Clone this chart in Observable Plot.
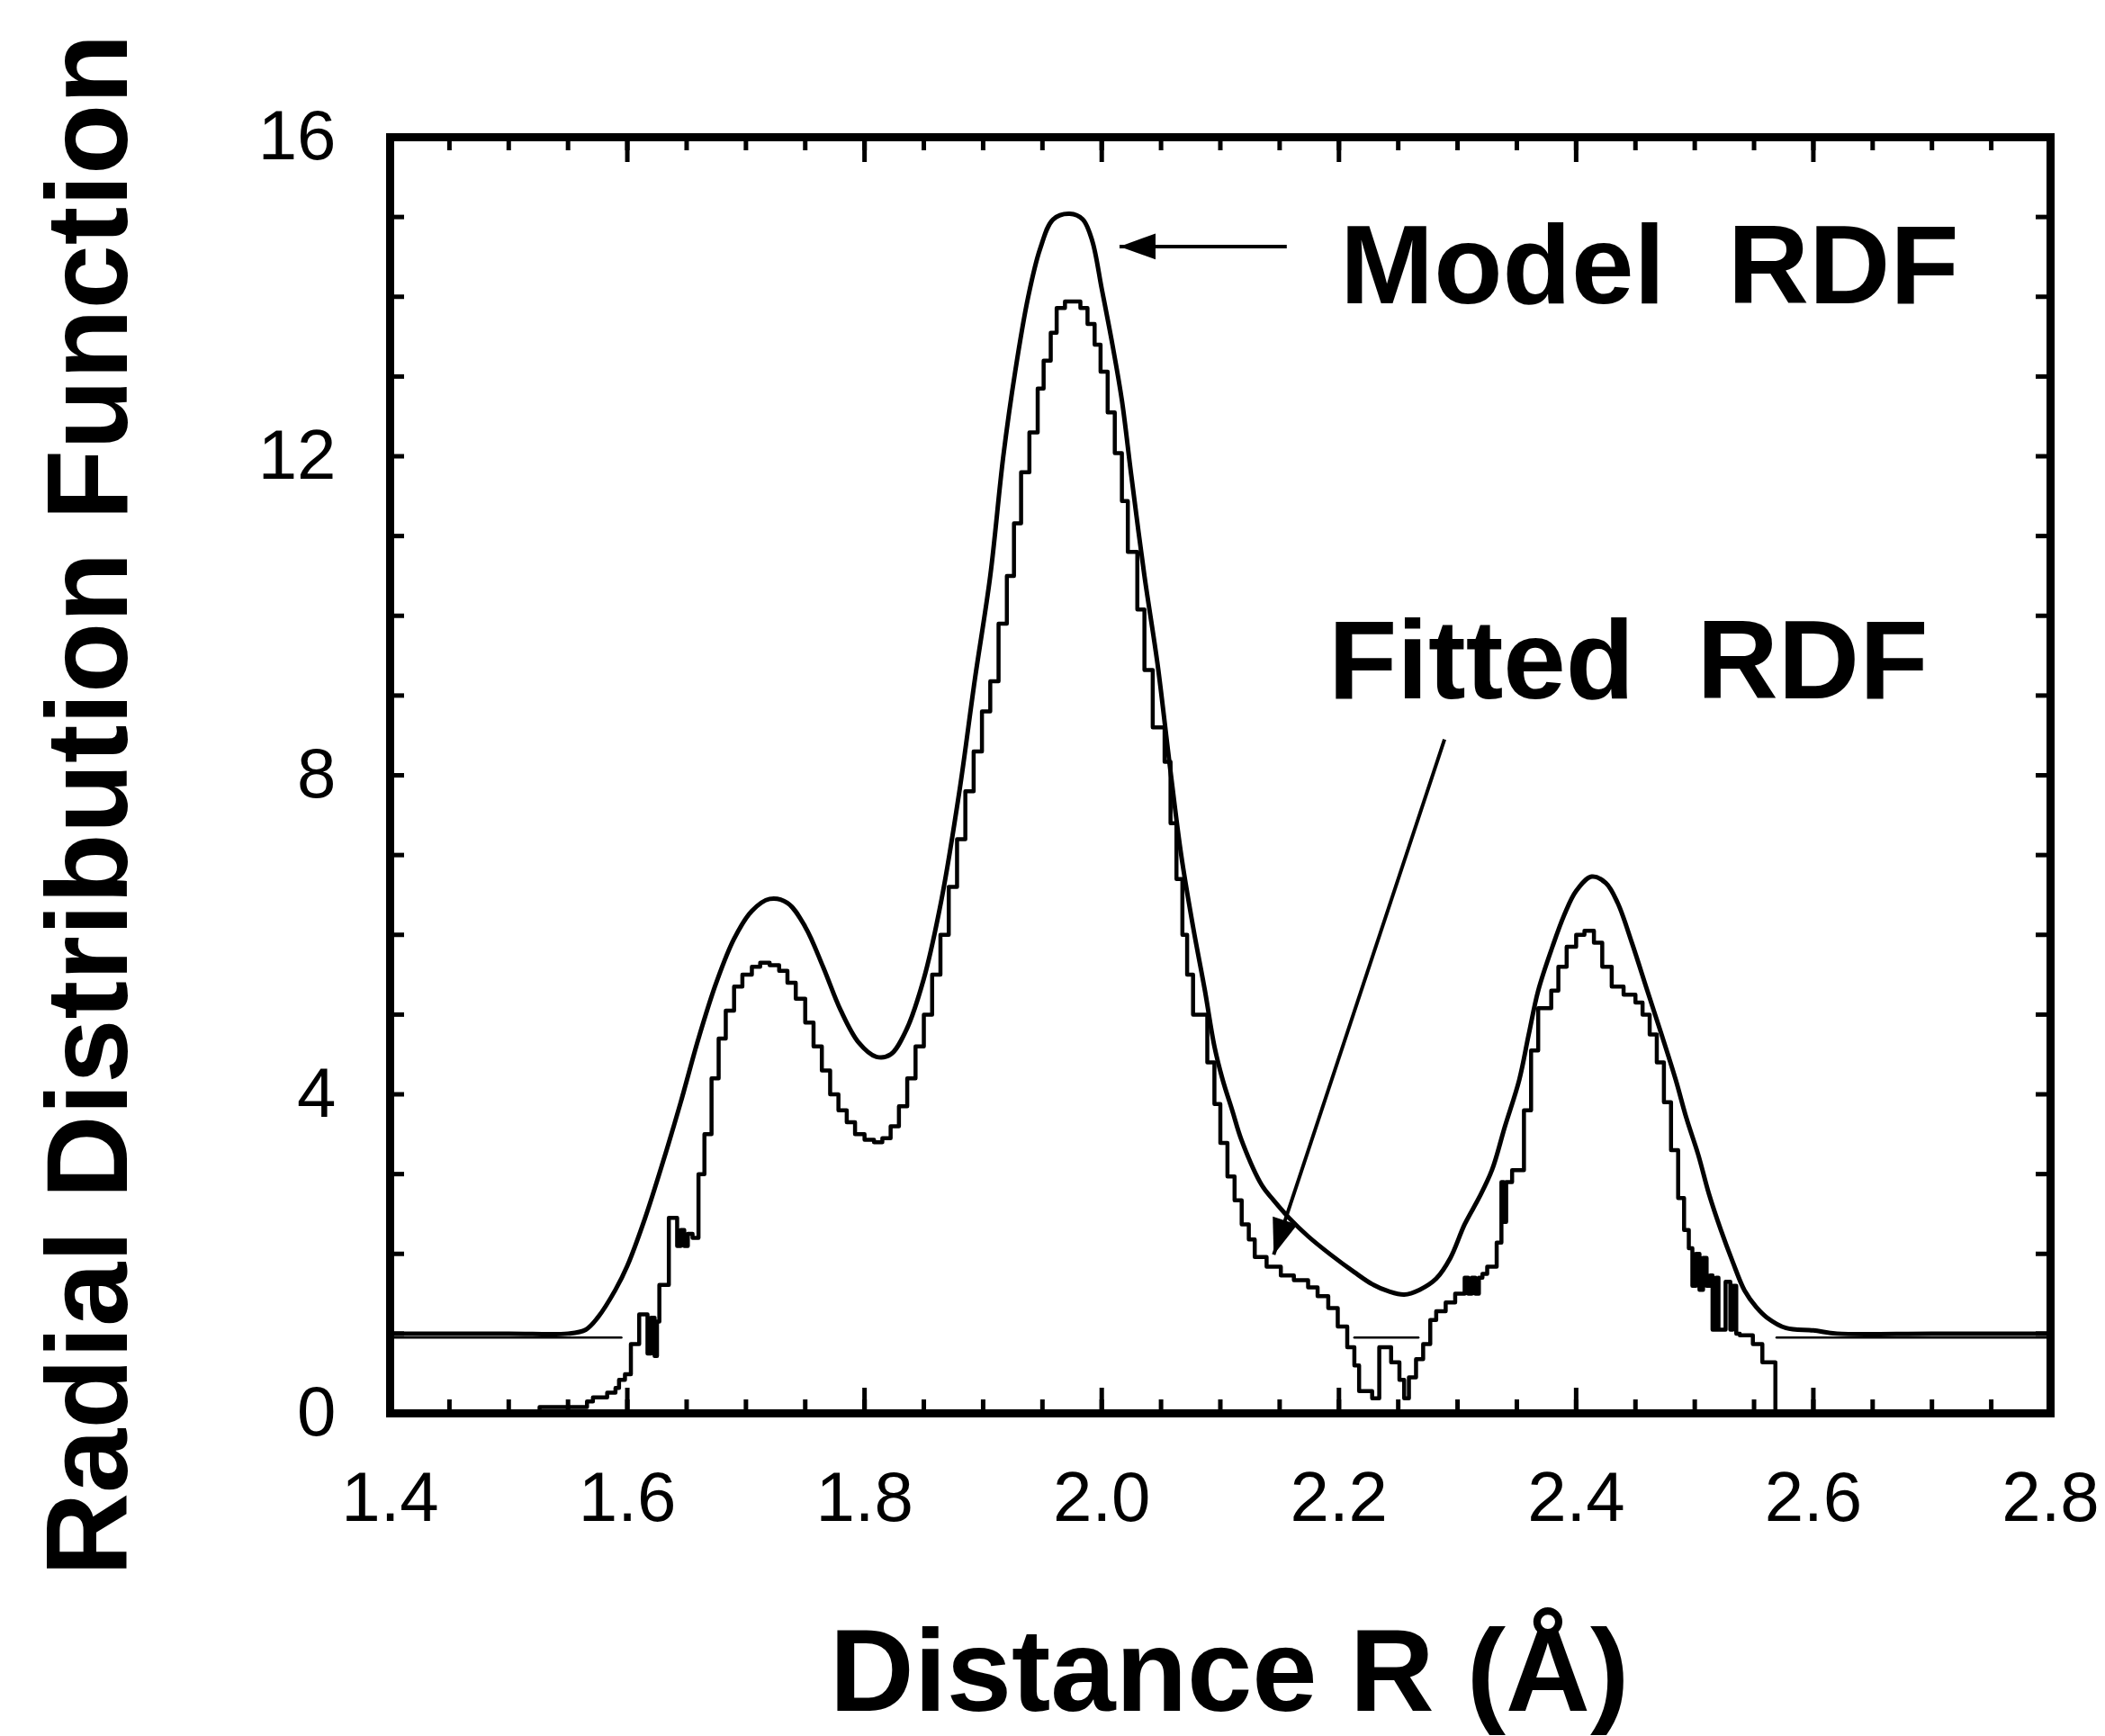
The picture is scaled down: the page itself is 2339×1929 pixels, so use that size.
<!DOCTYPE html>
<html>
<head>
<meta charset="utf-8">
<script src="https://cdn.jsdelivr.net/npm/d3@7"></script>
<script src="https://cdn.jsdelivr.net/npm/@observablehq/plot@0.6"></script>
<style>
  html, body { margin: 0; padding: 0; background: #ffffff; }
</style>
</head>
<body>
<div id="chart"></div>
<script>
// ---- Data ----
// Model RDF: smooth curve
const modelR = [1.40, 1.50, 1.55, 1.565, 1.575, 1.59, 1.60, 1.615, 1.63, 1.645, 1.66, 1.675, 1.69, 1.705, 1.72, 1.735, 1.75, 1.765, 1.78, 1.795, 1.81, 1.822, 1.835, 1.85, 1.865, 1.88, 1.893, 1.906, 1.917, 1.927, 1.938, 1.948, 1.959, 1.973, 1.984, 1.992, 2.0, 2.009, 2.017, 2.025, 2.036, 2.047, 2.057, 2.067, 2.077, 2.087, 2.095, 2.102, 2.11, 2.118, 2.135, 2.145, 2.158, 2.174, 2.193, 2.213, 2.228, 2.242, 2.255, 2.268, 2.282, 2.294, 2.306, 2.318, 2.329, 2.34, 2.352, 2.36, 2.368, 2.38, 2.39, 2.40, 2.413, 2.425, 2.435, 2.447, 2.46, 2.472, 2.484, 2.493, 2.503, 2.512, 2.522, 2.532, 2.542, 2.552, 2.561, 2.577, 2.60, 2.62, 2.70, 2.80];
const modelG = [1.0, 1.0, 1.0, 1.05, 1.2, 1.55, 1.85, 2.45, 3.15, 3.9, 4.7, 5.4, 5.95, 6.3, 6.45, 6.4, 6.1, 5.6, 5.05, 4.65, 4.47, 4.5, 4.8, 5.45, 6.45, 7.8, 9.2, 10.5, 12.0, 13.06, 14.0, 14.6, 14.97, 15.04, 14.97, 14.7, 14.1, 13.4, 12.7, 11.75, 10.5, 9.4, 8.17, 7.0, 6.1, 5.3, 4.6, 4.18, 3.8, 3.42, 2.86, 2.67, 2.45, 2.22, 1.99, 1.77, 1.62, 1.53, 1.49, 1.55, 1.69, 1.95, 2.37, 2.7, 3.05, 3.6, 4.18, 4.75, 5.3, 5.85, 6.25, 6.55, 6.73, 6.65, 6.4, 5.9, 5.3, 4.75, 4.18, 3.7, 3.24, 2.75, 2.3, 1.9, 1.54, 1.33, 1.2, 1.07, 1.04, 1.0, 1.0, 1.0];

// Fitted RDF: histogram (step) curve
const fittedR = [1.50, 1.526, 1.566, 1.571, 1.583, 1.590, 1.593, 1.598, 1.603, 1.610, 1.617, 1.620, 1.623, 1.625, 1.627, 1.635, 1.642, 1.645, 1.648, 1.651, 1.655, 1.660, 1.665, 1.671, 1.677, 1.683, 1.690, 1.697, 1.705, 1.712, 1.720, 1.728, 1.735, 1.742, 1.750, 1.757, 1.764, 1.771, 1.778, 1.785, 1.792, 1.800, 1.808, 1.815, 1.822, 1.829, 1.836, 1.843, 1.850, 1.857, 1.864, 1.871, 1.878, 1.885, 1.892, 1.899, 1.906, 1.913, 1.920, 1.926, 1.932, 1.939, 1.946, 1.951, 1.957, 1.962, 1.969, 1.982, 1.988, 1.994, 1.999, 2.005, 2.011, 2.017, 2.022, 2.030, 2.036, 2.043, 2.053, 2.058, 2.063, 2.068, 2.072, 2.077, 2.089, 2.095, 2.100, 2.106, 2.112, 2.118, 2.124, 2.129, 2.139, 2.151, 2.162, 2.174, 2.182, 2.191, 2.199, 2.207, 2.213, 2.217, 2.228, 2.234, 2.244, 2.251, 2.255, 2.259, 2.265, 2.271, 2.277, 2.282, 2.290, 2.298, 2.306, 2.309, 2.312, 2.315, 2.318, 2.321, 2.325, 2.333, 2.337, 2.339, 2.341, 2.346, 2.356, 2.362, 2.368, 2.379, 2.385, 2.392, 2.400, 2.407, 2.415, 2.422, 2.430, 2.440, 2.450, 2.456, 2.462, 2.468, 2.474, 2.480, 2.486, 2.491, 2.495, 2.498, 2.501, 2.504, 2.507, 2.510, 2.513, 2.515, 2.518, 2.520, 2.526, 2.530, 2.532, 2.535, 2.538, 2.549, 2.557, 2.568, 2.580];
const fittedG = [0, 0.08, 0.15, 0.2, 0.26, 0.32, 0.42, 0.49, 0.87, 1.24, 0.75, 1.2, 0.72, 1.15, 1.61, 2.45, 2.1, 2.3, 2.1, 2.25, 2.2, 3.0, 3.5, 4.2, 4.7, 5.05, 5.35, 5.5, 5.6, 5.65, 5.62, 5.55, 5.4, 5.2, 4.9, 4.6, 4.3, 4.0, 3.8, 3.65, 3.5, 3.43, 3.4, 3.45, 3.6, 3.85, 4.2, 4.6, 5.0, 5.5, 6.0, 6.6, 7.2, 7.8, 8.3, 8.8, 9.18, 9.9, 10.5, 11.16, 11.8, 12.3, 12.85, 13.2, 13.55, 13.86, 13.94, 13.86, 13.66, 13.4, 13.06, 12.55, 12.04, 11.44, 10.8, 10.08, 9.32, 8.6, 8.17, 7.4, 6.7, 6.0, 5.5, 5.0, 4.4, 3.88, 3.39, 2.97, 2.67, 2.37, 2.18, 1.96, 1.84, 1.73, 1.67, 1.58, 1.47, 1.32, 1.09, 0.83, 0.6, 0.28, 0.19, 0.83, 0.64, 0.42, 0.19, 0.45, 0.68, 0.87, 1.17, 1.28, 1.39, 1.5, 1.7, 1.5, 1.7, 1.5, 1.7, 1.75, 1.84, 2.14, 2.9, 2.4, 2.9, 3.05, 3.8, 4.55, 5.08, 5.3, 5.6, 5.85, 6.0, 6.05, 5.9, 5.6, 5.35, 5.25, 5.15, 5.0, 4.75, 4.4, 3.9, 3.3, 2.7, 2.3, 2.07, 1.6, 2.0, 1.55, 1.95, 1.6, 1.73, 1.05, 1.7, 1.05, 1.65, 1.05, 1.6, 1.0, 0.98, 0.87, 0.64, 0, 0];

// Thin reference line at g ~ 1 (three visible pieces)
const baseSeg = ["a", "a", "b", "b", "c", "c"];
const baseR = [1.40, 1.595, 2.213, 2.267, 2.569, 2.80];
const baseG = [0.95, 0.95, 0.95, 0.95, 0.95, 0.95];

// Axis ticks and labels
const xLabelTicks = [1.4, 1.6, 1.8, 2.0, 2.2, 2.4, 2.6, 2.8];
const xMinorTicks = d3.range(29).map(i => +(1.4 + i * 0.05).toFixed(2));
const yLabelTicks = [0, 4, 8, 12, 16];
const yMinorTicks = d3.range(17);

// Annotations
const annoLabel = ["Model\u00a0\u00a0RDF", "Fitted\u00a0\u00a0RDF"];
const annoR = [2.201, 2.191];
const annoG = [13.92, 8.97];
const arrowR1 = [2.156, 2.289];
const arrowG1 = [14.63, 8.45];
const arrowR2 = [2.015, 2.145];
const arrowG2 = [14.63, 1.99];

const xTitle = "Distance R (Å)";
const yTitle = "Radial Distribution Function";

// ---- Build tables ----
const model = modelR.map((r, i) => ({r, g: modelG[i]}));
const fitted = fittedR.map((r, i) => ({r, g: fittedG[i]}));
const baseline = baseR.map((r, i) => ({r, g: baseG[i], seg: baseSeg[i]}));
const annos = annoLabel.map((t, i) => ({t, r: annoR[i], g: annoG[i]}));
const arrows = arrowR1.map((r1, i) => ({r1, g1: arrowG1[i], r2: arrowR2[i], g2: arrowG2[i]}));

const W = 2339, H = 1929;
const layout = {
  width: W, height: H,
  marginLeft: 433, marginRight: 61, marginTop: 152, marginBottom: 359,
  x: {domain: [1.4, 2.8]},
  y: {domain: [0, 16]}
};
const innerW = W - layout.marginLeft - layout.marginRight;
const innerH = H - layout.marginTop - layout.marginBottom;

// probe scales to orient arrowheads
const probe = Plot.plot({...layout, marks: [Plot.frame()]});
const sx = probe.scale("x"), sy = probe.scale("y");
arrows.forEach(a => {
  const dx = sx.apply(a.r2) - sx.apply(a.r1);
  const dy = sy.apply(a.g2) - sy.apply(a.g1);
  a.angle = Math.atan2(dx, -dy) * 180 / Math.PI;
});

const headSymbol = {
  draw(ctx, size) {
    const L = Math.sqrt(size / Math.PI);
    const w = L * 0.36;
    ctx.moveTo(0, 0);
    ctx.lineTo(w, L);
    ctx.lineTo(-w, L);
    ctx.closePath();
  }
};

const font = "'Liberation Sans', Arial, Helvetica, sans-serif";
const majorLen = 28, minorLen = 15, yLen = 16;

const chart = Plot.plot({
  ...layout,
  style: {fontFamily: font, background: "#ffffff", color: "#000000", overflow: "visible"},
  marks: [
    // thin g=1 line
    Plot.line(baseline, {x: "r", y: "g", z: "seg", stroke: "black", strokeWidth: 2.5}),
    // curves
    Plot.line(model, {x: "r", y: "g", curve: "catmull-rom", stroke: "black", strokeWidth: 5}),
    Plot.line(fitted, {x: "r", y: "g", curve: "step-after", stroke: "black", strokeWidth: 4.5}),
    // inward ticks: bottom & top
    Plot.tickX(xMinorTicks, {x: d => d, insetTop: innerH - minorLen, stroke: "black", strokeWidth: 5}),
    Plot.tickX(xMinorTicks, {x: d => d, insetBottom: innerH - minorLen, stroke: "black", strokeWidth: 5}),
    Plot.tickX(xLabelTicks, {x: d => d, insetTop: innerH - majorLen, stroke: "black", strokeWidth: 5}),
    Plot.tickX(xLabelTicks, {x: d => d, insetBottom: innerH - majorLen, stroke: "black", strokeWidth: 5}),
    // inward ticks: left & right
    Plot.tickY(yMinorTicks, {y: d => d, insetRight: innerW - yLen, stroke: "black", strokeWidth: 5}),
    Plot.tickY(yMinorTicks, {y: d => d, insetLeft: innerW - yLen, stroke: "black", strokeWidth: 5}),
    Plot.frame({stroke: "black", strokeWidth: 9}),
    // tick labels
    Plot.axisX({ticks: xLabelTicks, tickSize: 0, tickPadding: 64, fontSize: 78, tickFormat: d => d.toFixed(1), label: null}),
    Plot.axisY({ticks: yLabelTicks, tickSize: 0, tickPadding: 60, fontSize: 78, tickFormat: d => String(d), label: null}),
    // axis titles
    Plot.text([yTitle], {frameAnchor: "left", rotate: -90, dx: -293, dy: 33, lineAnchor: "bottom", textAnchor: "middle", fontSize: 128, fontWeight: "bold", fill: "black"}),
    Plot.text([xTitle], {frameAnchor: "bottom", dx: 10, dy: 330, lineAnchor: "bottom", textAnchor: "middle", fontSize: 130, fontWeight: "bold", fill: "black"}),
    // annotations
    Plot.link(arrows, {x1: "r1", y1: "g1", x2: "r2", y2: "g2", stroke: "black", strokeWidth: 4}),
    Plot.dot(arrows, {x: "r2", y: "g2", r: 40, symbol: headSymbol, rotate: "angle", fill: "black", stroke: "none"}),
    Plot.text(annos, {x: "r", y: "g", text: "t", textAnchor: "start", lineAnchor: "bottom", fontSize: 125, fontWeight: "bold", fill: "black"})
  ]
});
document.getElementById("chart").appendChild(chart);
</script>
</body>
</html>
